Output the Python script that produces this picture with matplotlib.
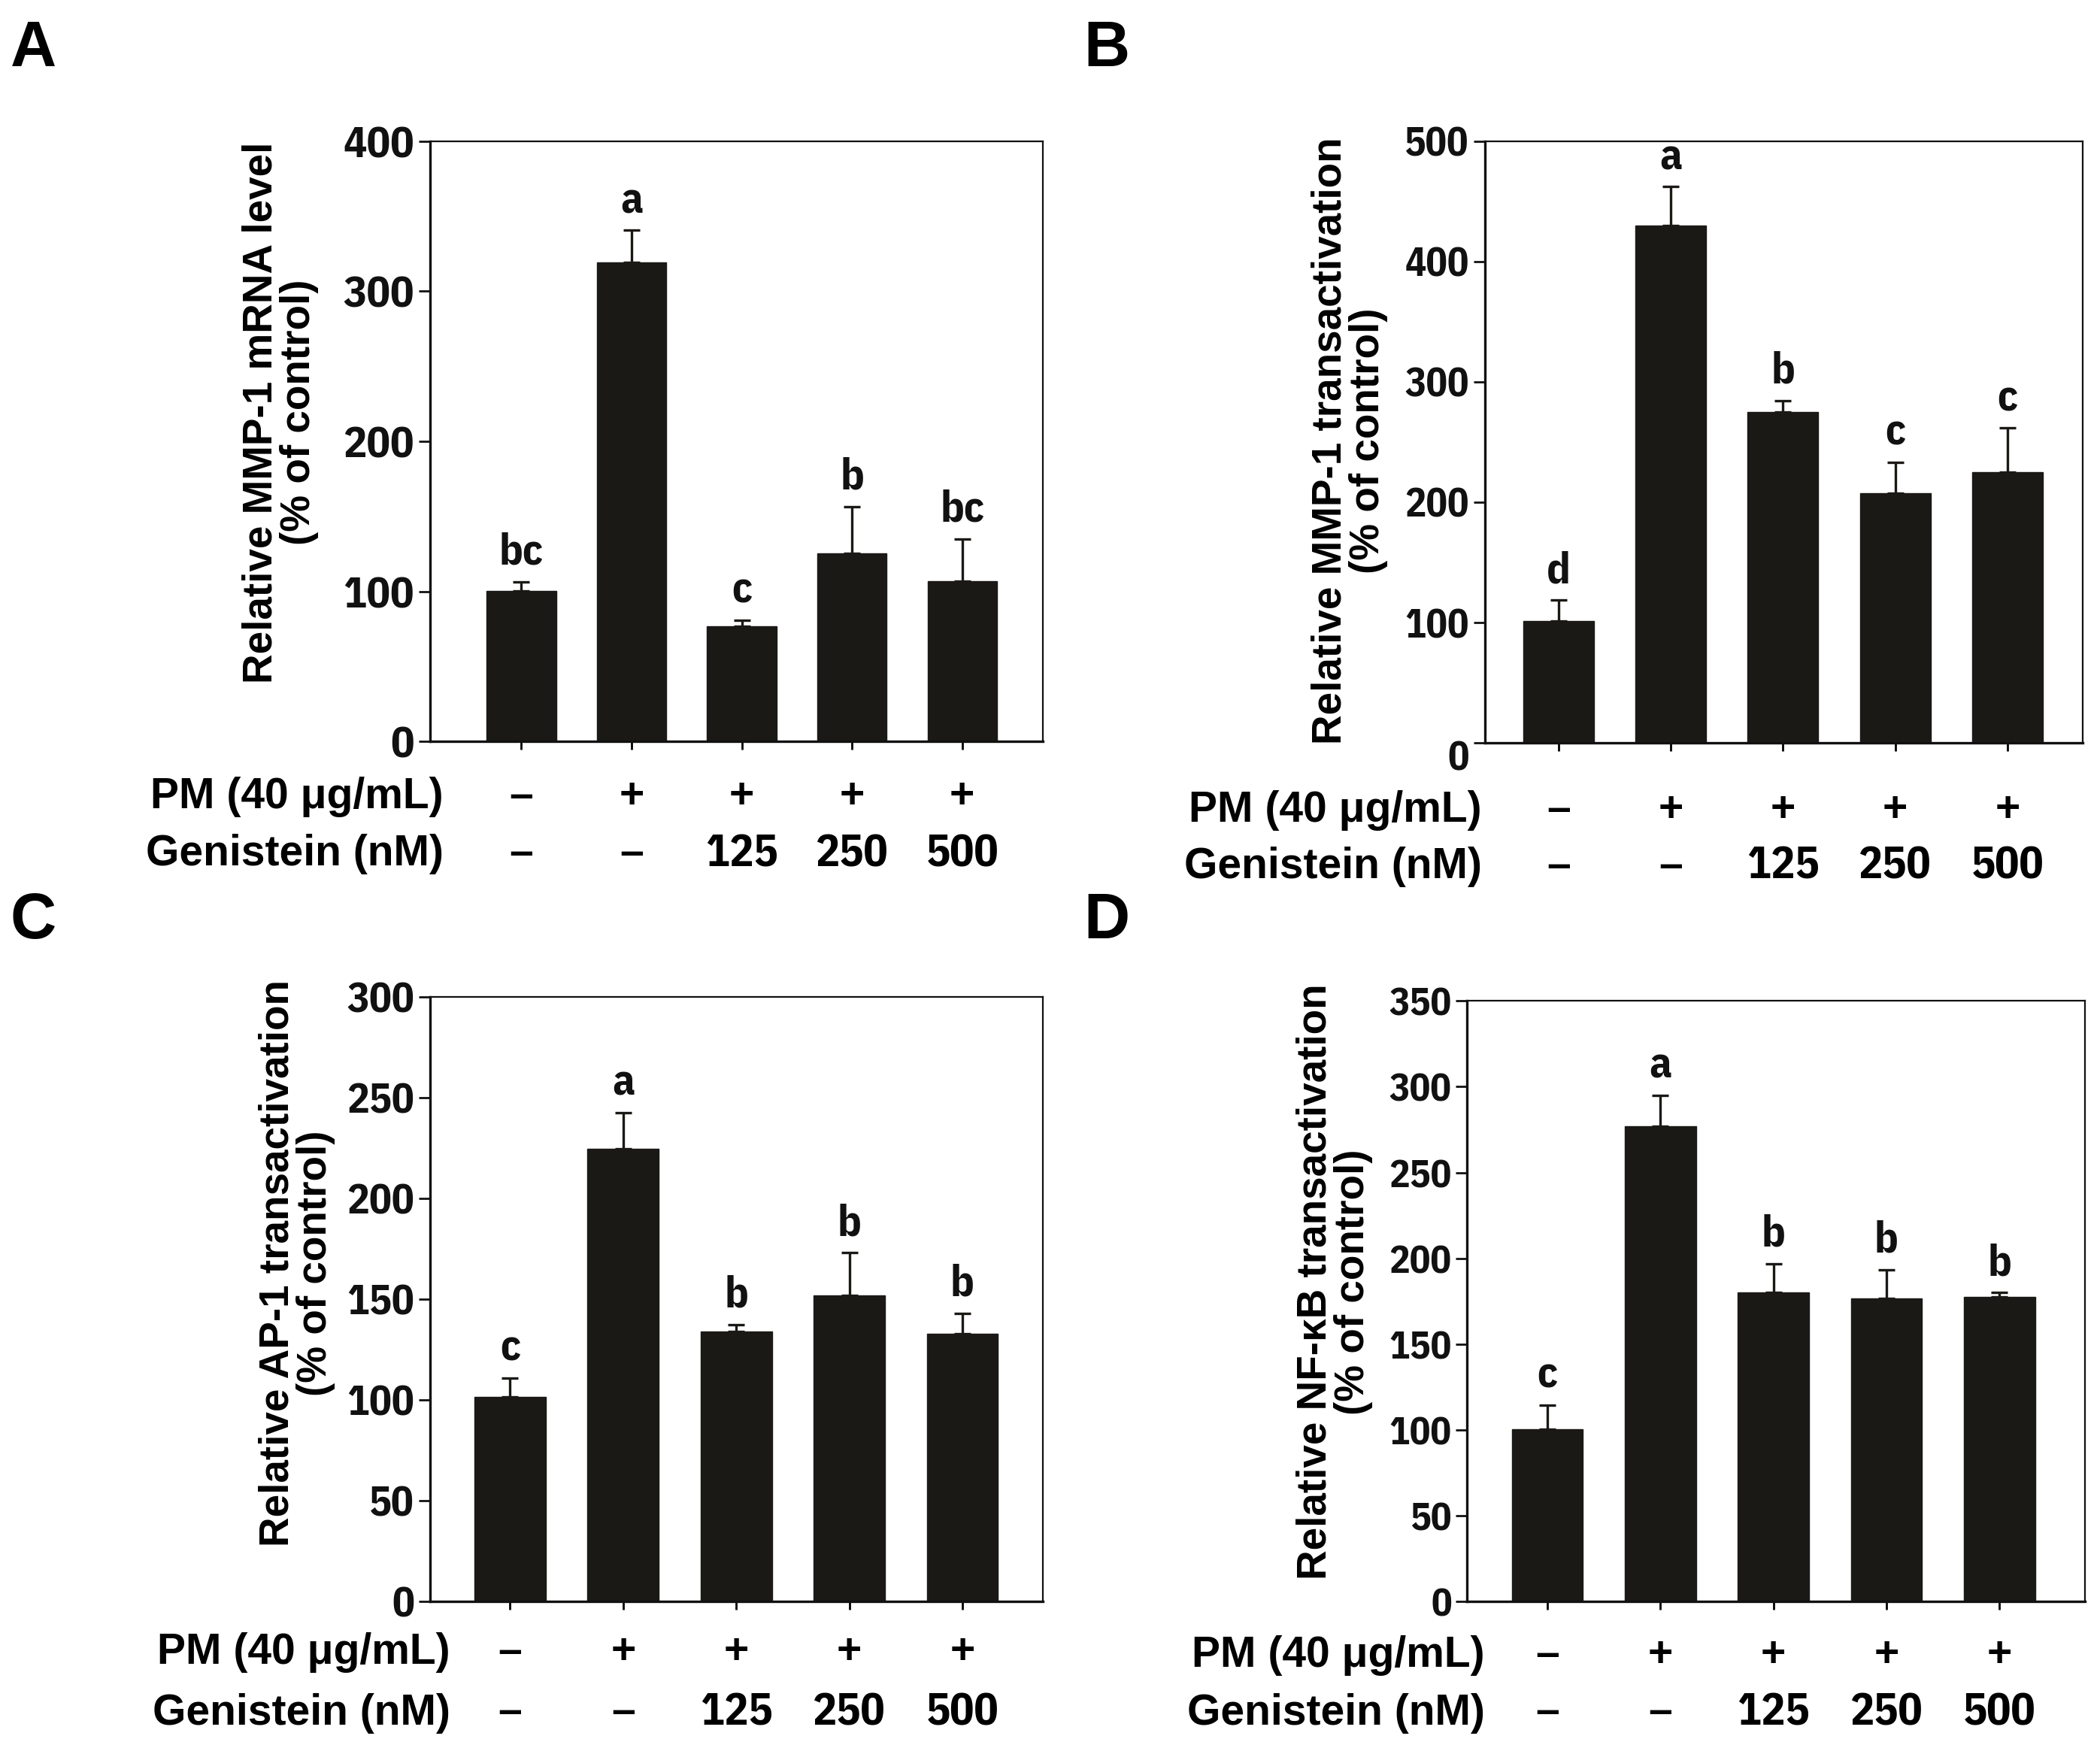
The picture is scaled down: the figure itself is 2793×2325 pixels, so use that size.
import matplotlib
matplotlib.use("Agg")
import matplotlib.pyplot as plt
from matplotlib import font_manager
from matplotlib.transforms import blended_transform_factory

# ---------------- data ----------------
groups = ["ctrl", "PM", "PM+G125", "PM+G250", "PM+G500"]
pm_row = ["–", "+", "+", "+", "+"]
gen_row = ["–", "–", "125", "250", "500"]

a_values = [100.5, 319, 77, 125.5, 107]
a_errors = [6, 21.5, 4, 31, 28]
a_letters = ["bc", "a", "c", "b", "bc"]

b_values = [101, 430, 275, 207.5, 225]
b_errors = [17.5, 32, 9.5, 25.5, 36.5]
b_letters = ["d", "a", "b", "c", "c"]

c_values = [101.5, 224.5, 134, 152, 133]
c_errors = [9.5, 18, 3.5, 21, 10]
c_letters = ["c", "a", "b", "b", "b"]

d_values = [100.5, 277, 180, 176.5, 177.5]
d_errors = [14, 18, 17, 17, 2.5]
d_letters = ["c", "a", "b", "b", "b"]

# ---------------- fonts ----------------
bold_fams = {f.name for f in font_manager.fontManager.ttflist
             if isinstance(f.weight, int) and f.weight >= 700}
narrow_pref = ["Liberation Sans Narrow", "Arial Narrow", "Nimbus Sans Narrow",
               "IBM Plex Sans Condensed", "Fira Sans Condensed", "Asap Condensed"]
NARROW_NAME = next((n for n in narrow_pref if n in bold_fams), "DejaVu Sans")
NARROW = [NARROW_NAME, "DejaVu Sans"]
ARIAL = ["Liberation Sans", "DejaVu Sans"]
plt.rcParams["font.family"] = ARIAL
plt.rcParams["font.weight"] = "bold"

BAR_COLOR = "#1b1916"

fig = plt.figure(figsize=(27.93, 23.25), dpi=100)

panels = [
    dict(letter="A", vals=a_values, errs=a_errors, lets=a_letters, ymax=400, step=100,
         rect=[0.2047, 0.5757, 0.2918, 0.3436], xlim=(-0.83, 4.73), tickfs=42, zero_shift=0,
         ylabel="Relative MMP-1 mRNA level\n(% of control)", ylab_xy=(0.1335, 0.764),
         pm_y=0.5442, gen_y=0.5112, row_x=0.2111, plab=(0.005, 0.989)),
    dict(letter="B", vals=b_values, errs=b_errors, lets=b_letters, ymax=500, step=100,
         rect=[0.707, 0.575, 0.2847, 0.3443], xlim=(-0.66, 4.67), tickfs=38, zero_shift=16,
         ylabel="Relative MMP-1 transactivation\n(% of control)", ylab_xy=(0.6425, 0.748),
         pm_y=0.5365, gen_y=0.5042, row_x=0.7057, plab=(0.516, 0.989)),
    dict(letter="C", vals=c_values, errs=c_errors, lets=c_letters, ymax=300, step=50,
         rect=[0.2047, 0.0838, 0.2918, 0.3459], xlim=(-0.71, 4.71), tickfs=40, zero_shift=0,
         ylabel="Relative AP-1 transactivation\n(% of control)", ylab_xy=(0.1414, 0.2775),
         pm_y=0.0546, gen_y=0.020, row_x=0.2143, plab=(0.005, 0.490)),
    dict(letter="D", vals=d_values, errs=d_errors, lets=d_letters, ymax=350, step=50,
         rect=[0.6987, 0.0838, 0.2943, 0.3436], xlim=(-0.71, 4.76), tickfs=37, zero_shift=0,
         ylabel="Relative NF-κB transactivation\n(% of control)", ylab_xy=(0.6355, 0.2667),
         pm_y=0.053, gen_y=0.020, row_x=0.707, plab=(0.516, 0.490)),
]

for p in panels:
    ax = fig.add_axes(p["rect"])
    x = list(range(len(groups)))
    ax.bar(x, p["vals"], width=0.63, color=BAR_COLOR, edgecolor=BAR_COLOR, zorder=2)
    ax.errorbar(x, p["vals"], yerr=[[0] * len(x), p["errs"]], fmt="none",
                ecolor=BAR_COLOR, elinewidth=2.4, capsize=8, capthick=2.4, zorder=3)
    for xi, v, e, lt in zip(x, p["vals"], p["errs"], p["lets"]):
        ax.annotate(lt, (xi, v + e), xytext=(0, 8), textcoords="offset points",
                    ha="center", va="bottom", fontsize=42, fontweight="bold",
                    family=NARROW, color="#111111")
    ax.set_xlim(*p["xlim"])
    ax.set_ylim(0, p["ymax"])
    yt = list(range(0, p["ymax"] + 1, p["step"]))
    ax.set_yticks(yt)
    ax.set_xticks(x)
    ax.set_xticklabels([])
    labels = [str(v) for v in yt]
    if p["zero_shift"]:
        labels[0] = ""
        ax.annotate("0", xy=(0, 0), xycoords=("axes fraction", "data"),
                    xytext=(-15, -p["zero_shift"]), textcoords="offset points",
                    ha="right", va="center", fontsize=p["tickfs"], fontweight="bold",
                    family=NARROW, color="#111111", annotation_clip=False)
    ax.set_yticklabels(labels, fontsize=p["tickfs"], fontweight="bold", family=NARROW)
    ax.tick_params(axis="y", direction="out", length=11, width=2, pad=4, colors="#111111")
    ax.tick_params(axis="x", direction="out", length=8, width=2)
    for s in ["left", "bottom"]:
        ax.spines[s].set_linewidth(2.4)
    for s in ["top", "right"]:
        ax.spines[s].set_linewidth(1.6)
    for s in ax.spines.values():
        s.set_color("#111111")

    # treatment rows
    tr = blended_transform_factory(ax.transData, fig.transFigure)
    fig.text(p["row_x"], p["pm_y"], "PM (40 μg/mL)", ha="right", va="center",
             fontsize=41, fontweight="bold", family=ARIAL)
    fig.text(p["row_x"], p["gen_y"], "Genistein (nM)", ha="right", va="center",
             fontsize=41, fontweight="bold", family=ARIAL)
    for xi, s1, s2 in zip(x, pm_row, gen_row):
        ax.text(xi, p["pm_y"], s1, transform=tr, ha="center", va="center",
                fontsize=41, fontweight="bold", family=ARIAL)
        if s2 == "–":
            ax.text(xi, p["gen_y"], s2, transform=tr, ha="center", va="center",
                    fontsize=41, fontweight="bold", family=ARIAL)
        else:
            ax.text(xi, p["gen_y"], s2, transform=tr, ha="center", va="center",
                    fontsize=43, fontweight="bold", family=NARROW)

    fig.text(p["ylab_xy"][0], p["ylab_xy"][1], p["ylabel"], rotation=90,
             ha="center", va="center", multialignment="center",
             fontsize=39.5, fontweight="bold", family=ARIAL, linespacing=0.95)
    fig.text(p["plab"][0], p["plab"][1], p["letter"], ha="left", va="top",
             fontsize=61, fontweight="bold", family=ARIAL)

fig.savefig("out.png", dpi=100, facecolor="white")
